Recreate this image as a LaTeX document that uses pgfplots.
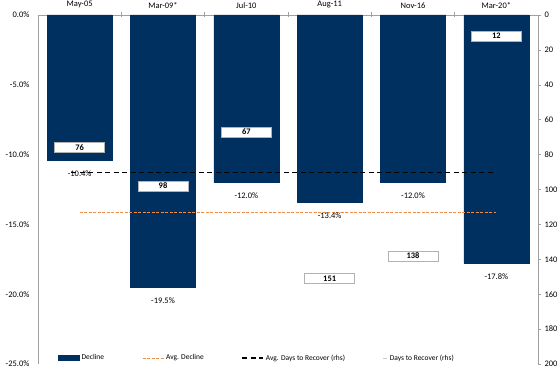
\documentclass[border=0pt]{standalone}
\usepackage{pgfplots}
\pgfplotsset{compat=1.18}
\usepackage{fontspec}
\setmainfont{Carlito}
\definecolor{navy}{RGB}{0,48,96}
\definecolor{orng}{RGB}{240,140,70}
\definecolor{axgray}{RGB}{160,160,160}
\begin{document}
\begin{tikzpicture}
\path[use as bounding box] (-38bp,-11bp) rectangle (520bp,364bp);
\begin{axis}[
  at={(0,0)}, anchor=south west,
  scale only axis, width=500bp, height=349bp,
  xmin=-0.5, xmax=5.5, ymin=-25, ymax=0,
  axis x line*=top, axis y line*=left,
  axis line style={axgray, line width=0.7bp},
  xtick={0,...,5},
  xticklabels={May-05,Mar-09*,Jul-10,Aug-11,Nov-16,Mar-20*},
  major x tick style={draw=none},
  minor xtick={0.5,1.5,2.5,3.5,4.5},
  minor x tick style={axgray, line width=0.6bp},
  minor tick length=5bp,
  tick align=center,
  xticklabel style={yshift=1bp},
  ytick={-25,-20,-15,-10,-5,0},
  y tick style={draw=none},
  yticklabel={\pgfmathprintnumber[fixed,fixed zerofill,precision=1]{\tick}\%},
  yticklabel style={xshift=-3bp},
  tick label style={font=\fontsize{8.5}{10}\selectfont},
  /pgf/number format/assume math mode=true,
  clip=false,
]
\addplot[ybar, bar width=0.78, fill=navy, draw=navy,
  point meta=y,
  nodes near coords={\pgfmathprintnumber[fixed,fixed zerofill,precision=1,assume math mode=true]{\pgfplotspointmeta}\%},
  every node near coord/.append style={font=\fontsize{8.5}{10}\selectfont, text=black, anchor=north, yshift=-7bp}]
  coordinates {(0,-10.4) (1,-19.5) (2,-12.0) (3,-13.4) (4,-12.0) (5,-17.8)};
\addplot[orng, dash pattern=on 3bp off 1.5bp, line width=1bp]
  coordinates {(0,-14.18) (5,-14.18)};
\end{axis}
\begin{axis}[
  at={(0,0)}, anchor=south west,
  scale only axis, width=500bp, height=349bp,
  xmin=-0.5, xmax=5.5, ymin=0, ymax=200, y dir=reverse,
  axis x line=none, axis y line*=right,
  axis line style={axgray, line width=0.7bp},
  ytick={0,20,...,200},
  tick align=outside, major tick length=3bp,
  y tick style={axgray, line width=0.6bp},
  tick label style={font=\fontsize{8.5}{10}\selectfont},
  /pgf/number format/assume math mode=true,
  clip=false,
  legend columns=4,
  legend style={at={(0.04,0.017)}, anchor=west, draw=none, fill=none,
    inner sep=0pt, font=\fontsize{7.5}{9}\selectfont,
    /tikz/every even column/.append style={column sep=36bp}},
]
\addlegendimage{legend image code/.code={\fill[navy] (0bp,-2.5bp) rectangle (21bp,2.5bp);}}
\addlegendentry{Decline}
\addlegendimage{legend image code/.code={\draw[orng, dash pattern=on 3bp off 1.5bp, line width=1bp] (0bp,0bp) -- (21bp,0bp);}}
\addlegendentry{Avg. Decline}
\addlegendimage{legend image code/.code={\draw[black, dash pattern=on 5bp off 3.5bp, line width=1.2bp] (0bp,0bp) -- (21bp,0bp);}}
\addlegendentry{Avg. Days to Recover (rhs)}
\addlegendimage{legend image code/.code={\draw[gray!40, line width=0.8bp] (9bp,0bp) -- (13bp,0bp);}}
\addlegendentry{Days to Recover (rhs)}
\addplot[forget plot, black, dash pattern=on 5bp off 3.5bp, line width=1.2bp]
  coordinates {(-0.1,90.33) (5,90.33)};
\addplot[forget plot, draw=none, point meta=y,
  nodes near coords={\bfseries\pgfmathprintnumber{\pgfplotspointmeta}},
  every node near coord/.append style={anchor=center, draw=gray!60, fill=white,
    line width=0.5bp, minimum width=50bp, minimum height=10bp, inner sep=0pt,
    text=black, font=\fontsize{8.5}{9.5}\selectfont\bfseries}]
  coordinates {(0,76) (1,98) (2,67) (3,151) (4,138) (5,12)};
\end{axis}
\end{tikzpicture}
\end{document}
